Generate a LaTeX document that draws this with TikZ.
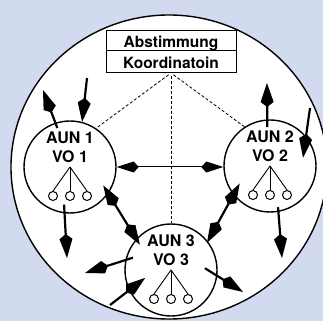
\documentclass[tikz,border=0pt]{standalone}
\usepackage{fontspec}
\setmainfont{TeX Gyre Heros}
\usetikzlibrary{arrows.meta,positioning}
\definecolor{bgblue}{RGB}{210,218,240}

\begin{document}
\begin{tikzpicture}[x=1pt, y=1pt,
    unit/.style={circle, draw=black, line width=1.4pt, fill=white,
        minimum size=92pt, inner sep=0pt},
    lbl/.style={font=\bfseries\fontsize{16}{19}\selectfont, align=center, inner sep=0pt},
    port/.style={circle, draw=black, line width=1pt, fill=white,
        minimum size=9pt, inner sep=0pt},
    fan/.style={line width=0.9pt},
    boxcell/.style={draw=black, line width=1pt, fill=white, minimum width=130pt,
        inner sep=0pt, outer sep=0pt, text height=14pt, text depth=0pt,
        font=\bfseries\fontsize{15.5}{17}\selectfont},
    link/.style={line width=0.8pt, dash pattern=on 3pt off 2pt},
    flow/.style={line width=2.2pt, -{Kite[length=24pt, width=13pt, inset=5pt]}},
    both/.style={line width=2.2pt, {Kite[length=24pt, width=13pt, inset=5pt]}-{Kite[length=24pt, width=13pt, inset=5pt]}},
    peer/.style={line width=1pt, {Kite[length=22pt, width=11pt, inset=5pt]}-{Kite[length=22pt, width=11pt, inset=5pt]}}
]
    \useasboundingbox (0,0) rectangle (323,321);
    \fill[bgblue] (0,0) rectangle (323,321);
    \draw[line width=1.4pt, fill=white] (169,154) ellipse [x radius=158, y radius=152];

    % coordination box
    \node[boxcell, minimum height=20pt] (abst) at (171,280) {Abstimmung};
    \node[boxcell, minimum height=22pt, below=0pt of abst] (koord) {Koordinatoin};

    % units
    \node[unit] (u1) at (70,154) {};
    \node[unit] (u2) at (270,155) {};
    \node[unit] (u3) at (171,51) {};
    \foreach \u in {1,2,3} {
        \node[lbl] (t\u) at ([yshift=20]u\u.center) {AUN \u\\VO \u};
        \coordinate (f\u) at (u\u.center);
        \foreach \k/\dx in {1/-17,2/0,3/17} {
            \node[port] (p\u\k) at ([shift={(\dx,-29)}]u\u.center) {};
            \draw[fan] (f\u) -- (p\u\k.north);
        }
    }

    % dashed links
    \draw[link, shorten <=3pt] (koord.south) -- (u1.56);
    \draw[link, shorten <=3pt] (koord.south) -- (u3.north);
    \draw[link, shorten <=3pt] (koord.south) -- (u2.123);

    % free ends
    \coordinate (o1a) at (43,231);
    \coordinate (i1a) at (87,243);
    \coordinate (o1b) at (67,63);
    \coordinate (o2a) at (267,238);
    \coordinate (i2a) at (310,213);
    \coordinate (o2b) at (282,63);
    \coordinate (o3a) at (85,48);
    \coordinate (i3a) at (110,16);
    \coordinate (o3b) at (243,29);

    \draw[flow] ([shift={(108:41)}]u1.center) -- (o1a);
    \draw[flow] (i1a) -- (u1.75);
    \draw[flow] ([shift={(261:38)}]u1.center) -- (o1b);
    \draw[flow] ([shift={(94:39)}]u2.center) -- (o2a);
    \draw[flow] (i2a) -- ([shift={(14:34)}]u2.center);
    \draw[flow] ([shift={(281:42)}]u2.center) -- (o2b);
    \draw[flow] ([shift={(162:40)}]u3.center) -- (o3a);
    \draw[flow] (i3a) -- ([shift={(197:27)}]u3.center);
    \draw[flow] ([shift={(3:34)}]u3.center) -- (o3b);

    \draw[both] ([shift={(331:38)}]u1.center) -- ([shift={(141:40)}]u3.center);
    \draw[both] ([shift={(210:35)}]u2.center) -- ([shift={(37:45)}]u3.center);
    \draw[peer] (u1.east) -- (u1.east -| u2.west);
\end{tikzpicture}
\end{document}
